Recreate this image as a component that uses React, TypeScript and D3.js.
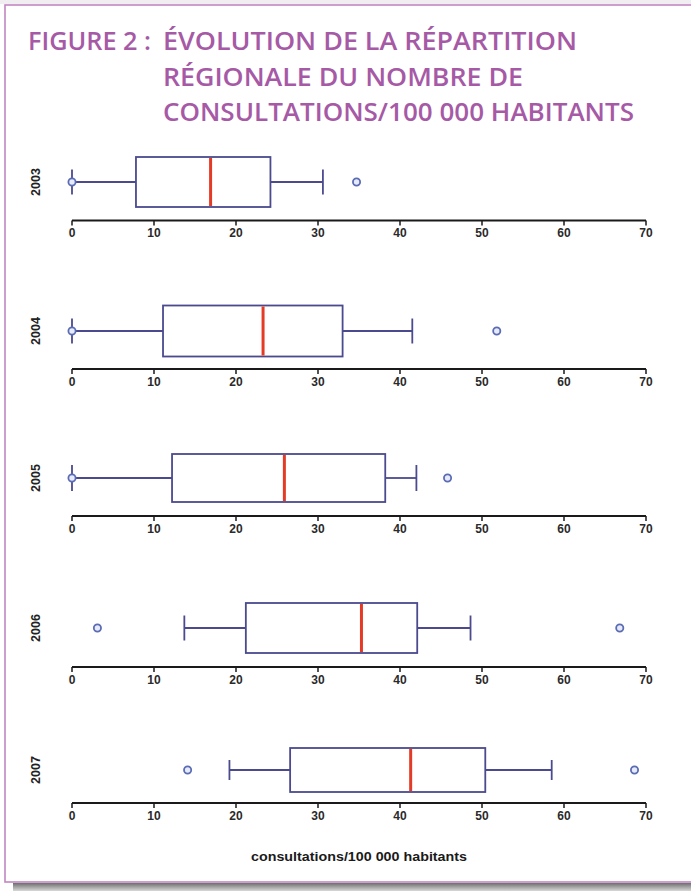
import React from "react";
import * as d3 from "d3";

// ---- data ----
const years = ["2003", "2004", "2005", "2006", "2007"];
const whiskerLow = [0, 0, 0, 13.7, 19.2];
const q1 = [7.8, 11.1, 12.2, 21.2, 26.6];
const medians = [16.9, 23.3, 25.9, 35.3, 41.3];
const q3 = [24.2, 33.0, 38.2, 42.1, 50.4];
const whiskerHigh = [30.6, 41.5, 42.0, 48.6, 58.5];
const outliers = [
  [0, 34.7],
  [0, 51.8],
  [0, 45.8],
  [3.1, 66.8],
  [14.1, 68.6],
];
const tickValues = [0, 10, 20, 30, 40, 50, 60, 70];
const titleLines = [
  "FIGURE 2 :",
  "ÉVOLUTION DE LA RÉPARTITION",
  "RÉGIONALE DU NOMBRE DE",
  "CONSULTATIONS/100 000 HABITANTS",
];
const axisTitle = "consultations/100 000 habitants";

// ---- layout ----
const W = 691;
const H = 891;
const panelCenters = [182, 331, 478, 628, 770];
const boxHalf = [25, 25.5, 24, 25, 22];
const axisOffsets = [38.5, 38, 38, 39, 33];
const capHalf = [12.5, 12.5, 13, 12.5, 10];

const purple = "#a65aa6";
const boxColor = "#4b4a8f";
const medColor = "#e53b26";

export default function App() {
  const x = d3.scaleLinear().domain([0, 70]).range([72, 646]);
  const font = "'Liberation Sans', Arial, sans-serif";

  return (
    <svg
      width={W}
      height={H}
      style={{ position: "absolute", left: 0, top: 0, background: "#fff" }}
    >
      <defs>
        <linearGradient id="shadowB" x1="0" y1="0" x2="0" y2="1">
          <stop offset="0" stopColor="#6e6e6e" />
          <stop offset="1" stopColor="#d8d8d8" />
        </linearGradient>
      </defs>
      <rect x={0} y={0} width={W} height={H} fill="#fff" />
      {/* shadow */}
      <rect x={13} y={883} width={W - 13} height={8} fill="url(#shadowB)" />
      <rect x={0} y={0} width={W} height={4} fill="#f1eef1" />
      {/* frame */}
      <rect
        x={5}
        y={5}
        width={W + 10}
        height={877}
        fill="#fff"
        stroke="#c286c2"
        strokeWidth={1.6}
      />

      {/* title */}
      <g
        fill={purple}
        fontFamily="'Open Sans', sans-serif"
        fontWeight={600}
        fontSize={25}
      >
        <text x={28} y={50} textLength={123} lengthAdjust="spacingAndGlyphs">
          {titleLines[0]}
        </text>
        <text x={163} y={50} textLength={414} lengthAdjust="spacingAndGlyphs">
          {titleLines[1]}
        </text>
        <text x={163} y={86} textLength={360} lengthAdjust="spacingAndGlyphs">
          {titleLines[2]}
        </text>
        <text x={163} y={121} textLength={471} lengthAdjust="spacingAndGlyphs">
          {titleLines[3]}
        </text>
      </g>

      {years.map((yr, i) => {
        const cy = panelCenters[i];
        const bh = boxHalf[i];
        const ay = cy + axisOffsets[i];
        const ch = capHalf[i];
        return (
          <g key={yr}>
            {/* year label */}
            <text
              transform={`translate(40,${cy}) rotate(-90)`}
              textAnchor="middle"
              fontFamily={font}
              fontWeight="bold"
              fontSize={12.5}
              fill="#222"
            >
              {yr}
            </text>
            {/* whiskers */}
            <line
              x1={x(whiskerLow[i])}
              x2={x(q1[i])}
              y1={cy}
              y2={cy}
              stroke={boxColor}
              strokeWidth={1.8}
            />
            <line
              x1={x(q3[i])}
              x2={x(whiskerHigh[i])}
              y1={cy}
              y2={cy}
              stroke={boxColor}
              strokeWidth={1.8}
            />
            <line
              x1={x(whiskerLow[i])}
              x2={x(whiskerLow[i])}
              y1={cy - ch}
              y2={cy + ch}
              stroke={boxColor}
              strokeWidth={1.8}
            />
            <line
              x1={x(whiskerHigh[i])}
              x2={x(whiskerHigh[i])}
              y1={cy - ch}
              y2={cy + ch}
              stroke={boxColor}
              strokeWidth={1.8}
            />
            {/* box */}
            <rect
              x={x(q1[i])}
              y={cy - bh}
              width={x(q3[i]) - x(q1[i])}
              height={2 * bh}
              fill="#fff"
              stroke={boxColor}
              strokeWidth={1.8}
            />
            <line
              x1={x(medians[i])}
              x2={x(medians[i])}
              y1={cy - bh + 1}
              y2={cy + bh - 1}
              stroke={medColor}
              strokeWidth={3}
            />
            {/* outliers */}
            {outliers[i].map((v, j) => (
              <circle
                key={j}
                cx={x(v)}
                cy={cy}
                r={3.6}
                fill="#e6eafa"
                stroke="#5b6cb5"
                strokeWidth={1.8}
              />
            ))}
            {/* axis */}
            <line
              x1={x(0)}
              x2={x(70)}
              y1={ay}
              y2={ay}
              stroke="#1a1a1a"
              strokeWidth={1.8}
            />
            {tickValues.map((t) => (
              <g key={t}>
                <line
                  x1={x(t)}
                  x2={x(t)}
                  y1={ay}
                  y2={ay + 5}
                  stroke="#1a1a1a"
                  strokeWidth={1.5}
                />
                <text
                  x={x(t)}
                  y={ay + 16.5}
                  textAnchor="middle"
                  fontFamily={font}
                  fontWeight="bold"
                  fontSize={12}
                  fill="#2a2a2a"
                >
                  {t}
                </text>
              </g>
            ))}
          </g>
        );
      })}

      <text
        x={(x(0) + x(70)) / 2}
        y={861}
        textAnchor="middle"
        fontFamily={font}
        fontWeight="bold"
        fontSize={13.5}
        fill="#1a1a1a"
        textLength={216}
        lengthAdjust="spacingAndGlyphs"
      >
        {axisTitle}
      </text>
    </svg>
  );
}
